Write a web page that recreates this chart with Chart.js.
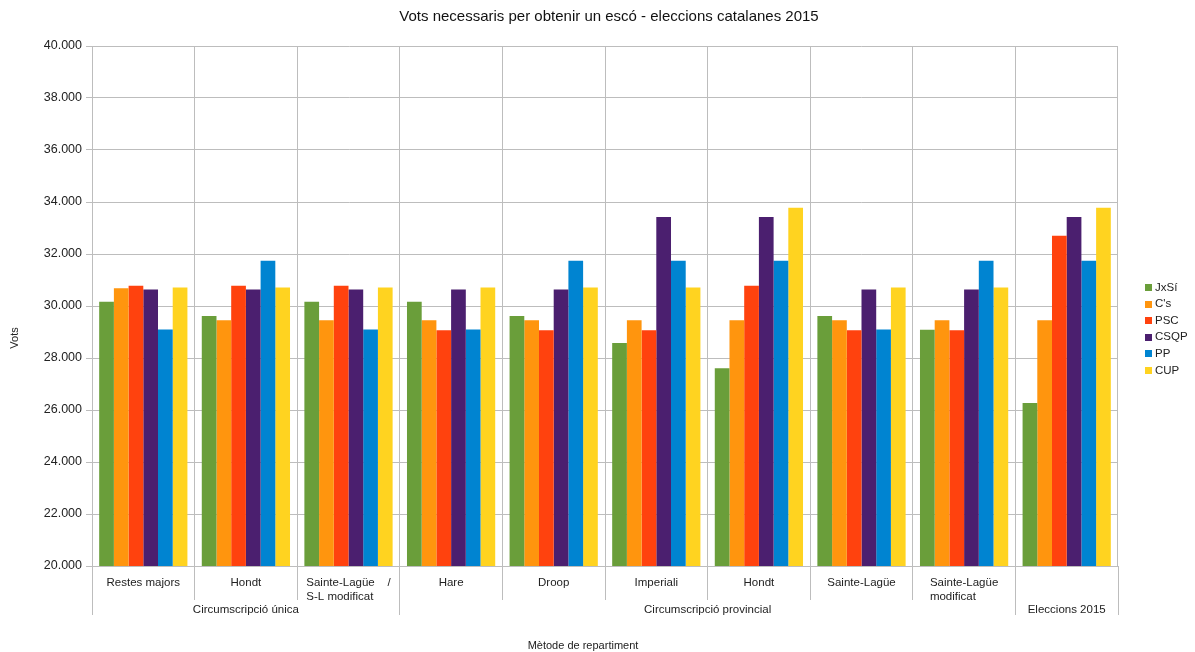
<!DOCTYPE html>
<html><head><meta charset="utf-8">
<script src="https://cdn.jsdelivr.net/npm/chart.js@4/dist/chart.umd.min.js"></script>
<style>html,body{margin:0;padding:0;background:#fff;overflow:hidden}#wrap{width:1195px;height:652px;position:relative}</style>
</head><body><div id="wrap"><canvas id="c" width="1195" height="652"></canvas></div>
<script>
const categories = ["Restes majors","Hondt","Sainte-Lagüe / S-L modificat","Hare","Droop","Imperiali","Hondt","Sainte-Lagüe","Sainte-Lagüe modificat",""];
const categoryLines = [["Restes majors"],["Hondt"],["Sainte-Lagüe    /","S-L modificat"],["Hare"],["Droop"],["Imperiali"],["Hondt"],["Sainte-Lagüe"],["Sainte-Lagüe","modificat"],[""]];
const groups = ["Circumscripció única","Circumscripció provincial","Eleccions 2015"];
const groupSpans = [[0,2],[3,8],[9,9]];
const seriesNames = ["JxSí","C's","PSC","CSQP","PP","CUP"];
const jxsi = [30161,29613,30161,30161,29613,28574,27605,29613,29084,26269];
const cs   = [30682,29455,29455,29455,29455,29455,29455,29455,29455,29455];
const psc  = [30781,30781,30781,29071,29071,29071,30781,29071,29071,32705];
const csqp = [30634,30634,30634,30634,30634,33419,33419,30634,30634,33419];
const pp   = [29099,31745,29099,29099,31745,31745,31745,29099,31745,31745];
const cup  = [30709,30709,30709,30709,30709,30709,33779,30709,30709,33779];
const yMin = 20000, yMax = 40000, yStep = 2000;
const titleText = "Vots necessaris per obtenir un escó - eleccions catalanes 2015";
const yTitle = "Vots";
const xTitle = "Mètode de repartiment";

const colors = ["#6a9e3a","#ff950e","#ff420e","#4b1f6f","#0084d1","#ffd320"];
const seriesData = [jxsi, cs, psc, csqp, pp, cup];
const FONT = "'Liberation Sans', Arial, sans-serif";
const gridColor = "#bdbdbd";
const textColor = "#222";

function fmt(v){ const s = String(Math.round(v)); return s.slice(0, s.length-3) + "." + s.slice(-3); }

const textPlugin = {
  id: 'texts',
  afterDraw(chart){
    const ctx = chart.ctx, ca = chart.chartArea;
    const xs = chart.scales.x;
    const n = categories.length;
    const catW = (ca.right - ca.left) / n;
    ctx.save();
    // separators below axis
    ctx.strokeStyle = gridColor; ctx.lineWidth = 1;
    const groupEdges = new Set();
    groupSpans.forEach(g => { groupEdges.add(g[0]); groupEdges.add(g[1]+1); });
    for (let i = 0; i <= n; i++) {
      const x = Math.floor(ca.left + i*catW) + 0.5;
      const yEnd = groupEdges.has(i) ? 615 : 600;
      ctx.beginPath(); ctx.moveTo(x, ca.bottom); ctx.lineTo(x, yEnd); ctx.stroke();
    }
    // category labels
    ctx.fillStyle = textColor;
    ctx.font = "11.5px " + FONT;
    ctx.textBaseline = 'middle';
    categoryLines.forEach((lines, i) => {
      const cx = ca.left + (i+0.5)*catW;
      let w = 0; lines.forEach(l => { w = Math.max(w, ctx.measureText(l).width); });
      ctx.textAlign = 'left';
      lines.forEach((l, k) => { ctx.fillText(l, cx - w/2, 583 + k*14); });
    });
    // group labels
    ctx.textAlign = 'center';
    groups.forEach((g, i) => {
      const s = groupSpans[i];
      const cx = ca.left + ((s[0] + s[1] + 1)/2)*catW;
      ctx.fillText(g, cx, 610);
    });
    // axis titles
    ctx.font = "11px " + FONT;
    ctx.fillText(xTitle, 583, 646);
    ctx.save(); ctx.translate(15, 338); ctx.rotate(-Math.PI/2); ctx.fillText(yTitle, 0, 0); ctx.restore();
    // title
    ctx.font = "15px " + FONT;
    ctx.fillStyle = "#111";
    ctx.fillText(titleText, 609, 17);
    // legend
    ctx.font = "11.5px " + FONT;
    ctx.textAlign = 'left';
    chart.data.datasets.forEach((ds, i) => {
      const y = 287.5 + i*16.6;
      ctx.fillStyle = ds.backgroundColor;
      ctx.fillRect(1145, Math.round(y-3.5), 7, 7);
      ctx.fillStyle = textColor;
      ctx.fillText(ds.label, 1155, y);
    });
    ctx.restore();
  }
};

new Chart(document.getElementById('c').getContext('2d'), {
  type: 'bar',
  data: {
    labels: categories,
    datasets: seriesNames.map((name, i) => ({
      label: name, data: seriesData[i], backgroundColor: colors[i],
      borderWidth: 0, categoryPercentage: 0.86, barPercentage: 1
    }))
  },
  options: {
    responsive: false, animation: false, devicePixelRatio: 1,
    layout: { padding: { top: 46, right: 77, bottom: 86, left: 0 } },
    plugins: { legend: { display: false }, title: { display: false }, tooltip: { enabled: false } },
    scales: {
      x: {
        grid: { offset: true, color: gridColor, drawTicks: false },
        border: { color: gridColor },
        ticks: { display: false },
        afterFit(s){ s.height = 0; }
      },
      y: {
        min: yMin, max: yMax,
        ticks: { stepSize: yStep, callback: v => fmt(v), font: { family: FONT, size: 12.5 }, color: textColor, padding: 4 },
        grid: { color: gridColor, tickLength: 6 },
        border: { color: gridColor },
        afterFit(s){ s.width = 92; }
      }
    }
  },
  plugins: [textPlugin]
});
</script>
</body></html>
